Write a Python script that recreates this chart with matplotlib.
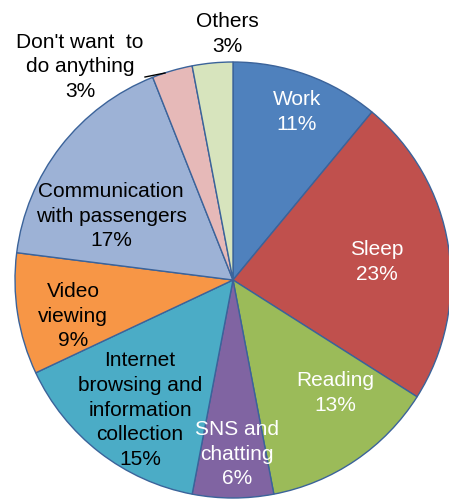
import matplotlib.pyplot as plt

plt.rcParams["font.family"] = ["Liberation Sans", "DejaVu Sans"]

# share of time spent on each activity (percent), clockwise from 12 o'clock
activities = [
    "Work",
    "Sleep",
    "Reading",
    "SNS and\nchatting",
    "Internet\nbrowsing and\ninformation\ncollection",
    "Video\nviewing",
    "Communication\nwith passengers",
    "Don't want  to\ndo anything",
    "Others",
]
shares = [11, 23, 13, 6, 15, 9, 17, 3, 3]

colors = ["#4F81BD", "#C0504D", "#9BBB59", "#8064A2", "#4BACC6",
          "#F79646", "#9DB2D6", "#E6B9B8", "#D7E4BD"]
text_colors = ["white", "white", "white", "white", "black",
               "black", "black", "black", "black"]
# label centres in pixel coords (x, y from top)
label_pos = [(297, 112), (377, 262), (335, 393), (237, 454), (140, 410),
             (73, 316), (111, 216), (80, 67), (227, 34)]

W, H = 449, 500
fig = plt.figure(figsize=(W / 100, H / 100), dpi=100)
ax = fig.add_axes([0, 0, 1, 1])

cx, cy, r = 233, H - 280, 218
ax.pie(shares, colors=colors, startangle=90, counterclock=False,
       center=(cx, cy), radius=r, frame=True,
       wedgeprops=dict(edgecolor="#3B639A", linewidth=1.0))
ax.set_xlim(0, W)
ax.set_ylim(0, H)
ax.set_aspect("equal")
ax.axis("off")

for name, val, (px, py), tc in zip(activities, shares, label_pos, text_colors):
    ax.text(px, H - py, f"{name}\n{val}%", ha="center", va="center",
            fontsize=15, color=tc, linespacing=1.38)

# leader line for the small slice
ax.plot([145, 165], [H - 77, H - 73], color="black", lw=1)

fig.savefig("out.png", dpi=100)
